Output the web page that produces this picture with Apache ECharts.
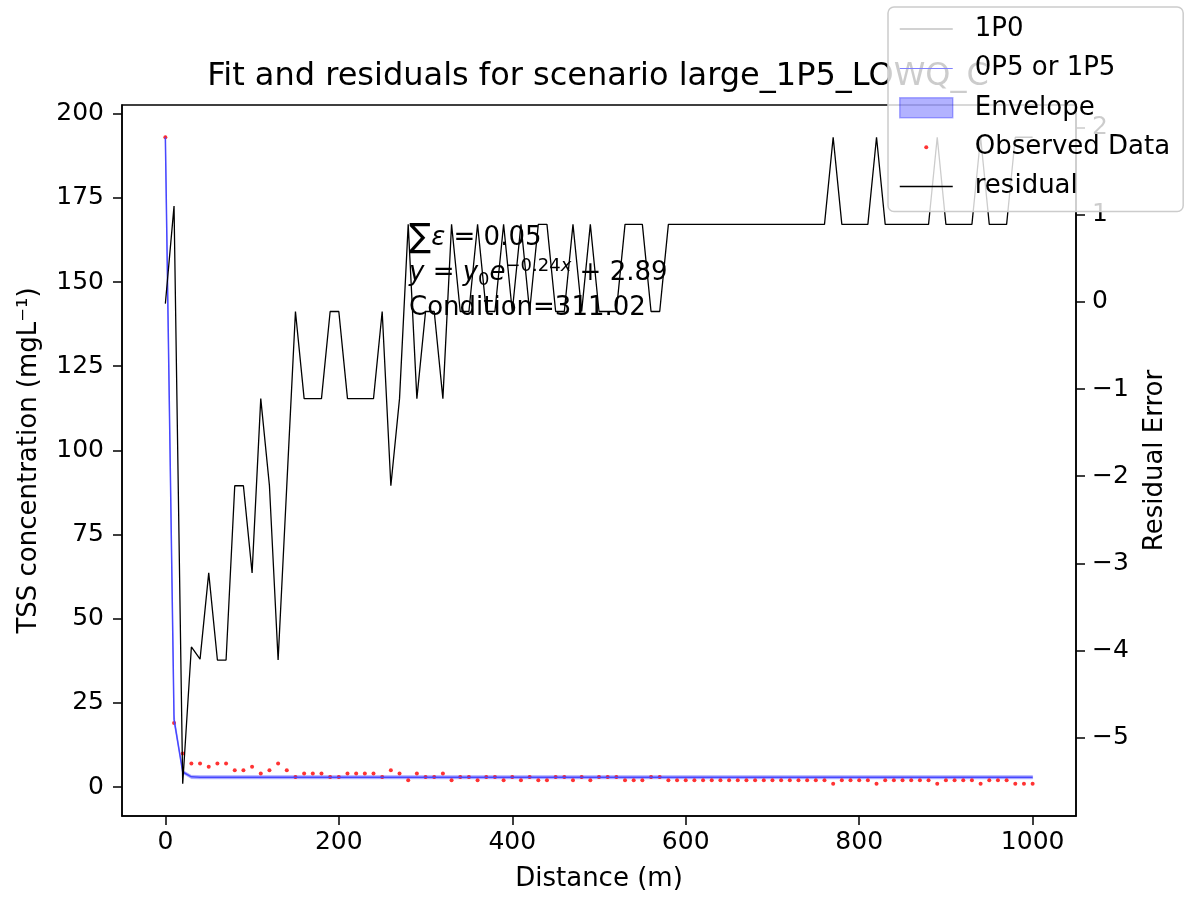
<!DOCTYPE html>
<html>
<head>
<meta charset="utf-8">
<title>Fit and residuals</title>
<script src="https://cdn.jsdelivr.net/npm/echarts@6.0.0/dist/echarts.min.js"></script>
<style>
  html, body { margin: 0; padding: 0; background: #fff; }
  #chart { width: 1186px; height: 901px; }
</style>
</head>
<body>
<div id="chart"></div>
<script>
// ── Data ─────────────────────────────────────────────────────────────────────

const distance = [
  0, 10, 20, 30, 40, 50, 60, 70, 80, 90,
  100, 110, 120, 130, 140, 150, 160, 170, 180, 190,
  200, 210, 220, 230, 240, 250, 260, 270, 280, 290,
  300, 310, 320, 330, 340, 350, 360, 370, 380, 390,
  400, 410, 420, 430, 440, 450, 460, 470, 480, 490,
  500, 510, 520, 530, 540, 550, 560, 570, 580, 590,
  600, 610, 620, 630, 640, 650, 660, 670, 680, 690,
  700, 710, 720, 730, 740, 750, 760, 770, 780, 790,
  800, 810, 820, 830, 840, 850, 860, 870, 880, 890,
  900, 910, 920, 930, 940, 950, 960, 970, 980, 990,
  1000
];

// TSS observed (mg/L)
const observed = [
  193, 19, 10, 7, 7, 6, 7, 7, 5, 5,
  6, 4, 5, 7, 5, 3, 4, 4, 4, 3,
  3, 4, 4, 4, 4, 3, 5, 4, 2, 4,
  3, 3, 4, 2, 3, 3, 2, 3, 3, 2,
  3, 2, 3, 2, 2, 3, 3, 2, 3, 2,
  3, 3, 3, 2, 2, 2, 3, 3, 2, 2,
  2, 2, 2, 2, 2, 2, 2, 2, 2, 2,
  2, 2, 2, 2, 2, 2, 2, 1, 2, 2,
  2, 2, 1, 2, 2, 2, 2, 2, 2, 1,
  2, 2, 2, 2, 1, 2, 2, 2, 1, 1,
  1
];

// fitted curve (blue line)
const fitCurve = [
  192.98, 20.10, 4.47, 3.04, 2.90, 2.89, 2.89, 2.89, 2.89, 2.89,
  2.89, 2.89, 2.89, 2.89, 2.89, 2.89, 2.89, 2.89, 2.89, 2.89,
  2.89, 2.89, 2.89, 2.89, 2.89, 2.89, 2.89, 2.89, 2.89, 2.89,
  2.89, 2.89, 2.89, 2.89, 2.89, 2.89, 2.89, 2.89, 2.89, 2.89,
  2.89, 2.89, 2.89, 2.89, 2.89, 2.89, 2.89, 2.89, 2.89, 2.89,
  2.89, 2.89, 2.89, 2.89, 2.89, 2.89, 2.89, 2.89, 2.89, 2.89,
  2.89, 2.89, 2.89, 2.89, 2.89, 2.89, 2.89, 2.89, 2.89, 2.89,
  2.89, 2.89, 2.89, 2.89, 2.89, 2.89, 2.89, 2.89, 2.89, 2.89,
  2.89, 2.89, 2.89, 2.89, 2.89, 2.89, 2.89, 2.89, 2.89, 2.89,
  2.89, 2.89, 2.89, 2.89, 2.89, 2.89, 2.89, 2.89, 2.89, 2.89,
  2.89
];

// residual error (right axis)
const residual = [
  -0.02, 1.10, -5.53, -3.96, -4.10, -3.11, -4.11, -4.11, -2.11, -2.11,
  -3.11, -1.11, -2.11, -4.11, -2.11, -0.11, -1.11, -1.11, -1.11, -0.11,
  -0.11, -1.11, -1.11, -1.11, -1.11, -0.11, -2.11, -1.11, 0.89, -1.11,
  -0.11, -0.11, -1.11, 0.89, -0.11, -0.11, 0.89, -0.11, -0.11, 0.89,
  -0.11, 0.89, -0.11, 0.89, 0.89, -0.11, -0.11, 0.89, -0.11, 0.89,
  -0.11, -0.11, -0.11, 0.89, 0.89, 0.89, -0.11, -0.11, 0.89, 0.89,
  0.89, 0.89, 0.89, 0.89, 0.89, 0.89, 0.89, 0.89, 0.89, 0.89,
  0.89, 0.89, 0.89, 0.89, 0.89, 0.89, 0.89, 1.89, 0.89, 0.89,
  0.89, 0.89, 1.89, 0.89, 0.89, 0.89, 0.89, 0.89, 0.89, 1.89,
  0.89, 0.89, 0.89, 0.89, 1.89, 0.89, 0.89, 0.89, 1.89, 1.89,
  1.89
];

// envelope band around the fit
const envDistance = [0, 10, 20, 30, 40, 1000];
const envLow  = [192.0, 19.0, 4.0, 2.5, 2.4, 2.4];
const envHigh = [193.5, 21.5, 5.0, 3.5, 3.4, 3.4];

const xTicks     = [0, 200, 400, 600, 800, 1000];
const tssTicks   = [0, 25, 50, 75, 100, 125, 150, 175, 200];
const residTicks = [-5, -4, -3, -2, -1, 0, 1, 2];

const legendNames = ['1P0', '0P5 or 1P5', 'Envelope', 'Observed Data', 'residual'];

// ── Helpers ───────────────────────────────────────────────────────────────────

const FONT = '"DejaVu Sans", sans-serif';

function pairs(xs, ys) {
  return xs.map((x, i) => [x, ys[i]]);
}

function minusSign(v) {
  return v < 0 ? '\u2212' + Math.abs(v) : String(v);
}

// legend icons, bounding box 53 x 20
const ICON_THIN  = 'path://M0,0M53,20M0,9.5h53v1h-53z';
const ICON_THICK = 'path://M0,0M53,20M0,9.25h53v1.5h-53z';
const ICON_RECT  = 'path://M0,0h53v20h-53z';
const ICON_DOT   = 'path://M0,0M53,20M24.5,10a2,2 0 1,0 4,0a2,2 0 1,0 -4,0z';

const axisCommon = {
  axisLine: { show: true, onZero: false, lineStyle: { color: '#000', width: 1.5 } },
  axisTick: { show: true, length: 9, lineStyle: { color: '#000', width: 1.5 } },
  splitLine: { show: false },
  nameTextStyle: { color: '#000', fontSize: 26, fontFamily: FONT },
};

// ── Chart ─────────────────────────────────────────────────────────────────────

const chart = echarts.init(document.getElementById('chart'), null, { renderer: 'canvas' });

chart.setOption({
  animation: false,
  backgroundColor: '#fff',
  title: {
    text: 'Fit and residuals for scenario large_1P5_LOWQ_C',
    left: 598,
    top: 61,
    padding: 0,
    textAlign: 'center',
    z: 1,
    textStyle: { fontSize: 32, fontWeight: 'normal', fontFamily: FONT, color: '#000' },
  },
  legend: {
    orient: 'vertical',
    left: 888,
    top: 7,
    z: 20,
    padding: [7, 13, 10, 11],
    itemWidth: 53,
    itemHeight: 20,
    itemGap: 9.4,
    selectedMode: false,
    backgroundColor: 'rgba(255,255,255,0.8)',
    borderColor: '#cccccc',
    borderWidth: 1.5,
    borderRadius: 6,
    textStyle: { fontSize: 26, fontFamily: FONT, color: '#000', lineHeight: 30, padding: [0, 0, 0, 17] },
    data: [
      { name: legendNames[0], icon: ICON_THIN,  itemStyle: { color: '#a6a6a6', borderWidth: 0 } },
      { name: legendNames[1], icon: ICON_THIN,  itemStyle: { color: '#8080ff', borderWidth: 0 } },
      { name: legendNames[2], icon: ICON_RECT,  itemStyle: { color: 'rgba(0,0,255,0.3)', borderColor: 'rgba(0,0,255,0.3)', borderWidth: 1.5 } },
      { name: legendNames[3], icon: ICON_DOT,   itemStyle: { color: '#ff0000', borderWidth: 0 } },
      { name: legendNames[4], icon: ICON_THICK, itemStyle: { color: '#000000', borderWidth: 0 } },
    ],
  },
  grid: {
    left: 122, right: 110, top: 105, bottom: 85,
    show: true, borderColor: '#000', borderWidth: 1.5, backgroundColor: 'transparent',
    containLabel: false,
  },
  xAxis: {
    ...axisCommon,
    type: 'value',
    min: -50, max: 1050,
    name: 'Distance (m)',
    nameLocation: 'middle',
    nameGap: 50,
    axisTick: { ...axisCommon.axisTick, customValues: xTicks },
    axisLabel: { customValues: xTicks, fontSize: 25, fontFamily: FONT, color: '#000', margin: 14, formatter: v => String(v) },
  },
  yAxis: [
    {
      ...axisCommon,
      type: 'value',
      position: 'left',
      min: -8.6, max: 202.6,
      name: 'TSS concentration (mgL\u207B\u00B9)',
      nameLocation: 'middle',
      nameRotate: 90,
      nameGap: 80,
      axisTick: { ...axisCommon.axisTick, customValues: tssTicks },
      axisLabel: { customValues: tssTicks, fontSize: 25, fontFamily: FONT, color: '#000', margin: 18, formatter: v => String(v) },
    },
    {
      ...axisCommon,
      type: 'value',
      position: 'right',
      min: -5.9, max: 2.26,
      name: 'Residual Error',
      nameLocation: 'middle',
      nameRotate: 90,
      nameGap: 66,
      axisTick: { ...axisCommon.axisTick, customValues: residTicks },
      axisLabel: { customValues: residTicks, fontSize: 25, fontFamily: FONT, color: '#000', margin: 16, formatter: minusSign },
    },
  ],
  graphic: [
    {
      type: 'text', x: 409, y: 238, z: 5,
      style: {
        text: '{sum|\u2211}{it|\u03B5}{n| = 0.05}',
        verticalAlign: 'middle',
        fill: '#000',
        rich: {
          sum: { fontSize: 33, fontFamily: FONT, lineHeight: 36 },
          it:  { fontSize: 26, fontFamily: FONT, fontStyle: 'italic', lineHeight: 36 },
          n:   { fontSize: 26, fontFamily: FONT, lineHeight: 36 },
        },
      },
    },
    {
      type: 'text', x: 409, y: 273, z: 5,
      style: {
        text: '{it|y}{n| = }{it|y}{sub|0}{it|e}{sup|\u22120.24}{supit|x}{n| + 2.89}',
        verticalAlign: 'middle',
        fill: '#000',
        rich: {
          it:    { fontSize: 26, fontFamily: FONT, fontStyle: 'italic', lineHeight: 32 },
          n:     { fontSize: 26, fontFamily: FONT, lineHeight: 32 },
          sub:   { fontSize: 18, fontFamily: FONT, lineHeight: 18, verticalAlign: 'bottom' },
          sup:   { fontSize: 18, fontFamily: FONT, lineHeight: 20, verticalAlign: 'top' },
          supit: { fontSize: 18, fontFamily: FONT, fontStyle: 'italic', lineHeight: 20, verticalAlign: 'top' },
        },
      },
    },
    {
      type: 'text', x: 409, y: 308, z: 5,
      style: { text: 'Condition=311.02', verticalAlign: 'middle', fill: '#000', fontSize: 26, fontFamily: FONT },
    },
  ],
  series: [
    {
      name: legendNames[0],
      type: 'line',
      yAxisIndex: 0,
      data: [],
      symbol: 'none',
      lineStyle: { color: '#a6a6a6', width: 1 },
    },
    {
      // envelope band: polygon through the upper values and back along the lower values
      name: legendNames[2],
      type: 'custom',
      yAxisIndex: 0,
      silent: true,
      data: [[envDistance[0], envLow[0]]],
      renderItem: (params, api) => {
        const upper = envDistance.map((x, i) => api.coord([x, envHigh[i]]));
        const lower = envDistance.map((x, i) => api.coord([x, envLow[i]])).reverse();
        return {
          type: 'polygon',
          shape: { points: upper.concat(lower) },
          style: { fill: 'rgba(0,0,255,0.28)', stroke: 'rgba(0,0,255,0.15)', lineWidth: 1 },
        };
      },
    },
    {
      name: legendNames[1],
      type: 'line',
      yAxisIndex: 0,
      data: pairs(distance, fitCurve),
      symbol: 'none',
      lineStyle: { color: '#4747ff', width: 1.5 },
    },
    {
      name: legendNames[3],
      type: 'scatter',
      yAxisIndex: 0,
      data: pairs(distance, observed),
      symbol: 'circle',
      symbolSize: 4,
      itemStyle: { color: '#ff0000' },
    },
    {
      name: legendNames[4],
      type: 'line',
      yAxisIndex: 1,
      data: pairs(distance, residual),
      symbol: 'none',
      lineStyle: { color: '#000', width: 1.3 },
    },
  ],
});
</script>
</body>
</html>
